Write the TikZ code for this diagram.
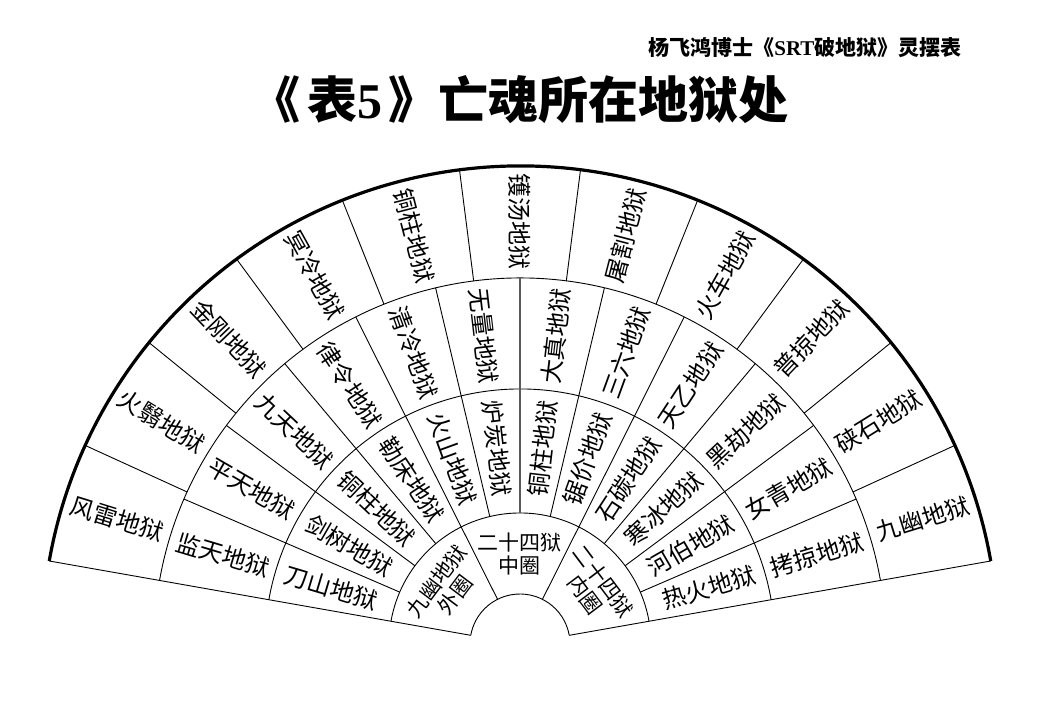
\documentclass[tikz,border=0pt]{standalone}
\usepackage{fontspec}
\setmainfont{Liberation Serif}
\newfontfamily\cjk{Noto Sans CJK SC}

\begin{document}
\begin{tikzpicture}[x=1pt,y=1pt,
  ring/.style={line width=0.9pt},
  rim/.style={line width=3.2pt},
  lab/.style={font=\cjk\fontsize{24}{26}\selectfont,inner sep=0pt},
  hub/.style={font=\cjk\fontsize{21}{23}\selectfont,align=center,inner sep=0pt}]
\useasboundingbox (-520,-76) rectangle (519,644);

% titles
\node[anchor=east,font=\cjk\bfseries\fontsize{21}{23}\selectfont] (sub) at (445,596)
  {杨飞鸿博士《{\rmfamily\bfseries SRT}破地狱》灵摆表};
\node[font=\cjk\bfseries\fontsize{50}{54}\selectfont] (title) at (0,544)
  {《\hspace{7pt}表{\rmfamily\bfseries 5}\hspace{6pt}》亡魂所在地狱处};

% rings and edges
\draw[ring] (10:50) arc[start angle=10,end angle=170,radius=50];
\foreach \r in {131,255,366}
  \draw[ring] (10:\r) arc[start angle=10,end angle=170,radius=\r];
\draw[rim] (10:478) arc[start angle=10,end angle=170,radius=478];
\draw[ring] (170:50) -- (170:478);
\draw[ring] (10:50) -- (10:478);

% dividers
\draw[ring] (116.67:50) -- (116.67:131);
\draw[ring] (63.33:50) -- (63.33:131);
\foreach \k in {1,...,11}
  \draw[ring] ({170-\k*40/3}:131) -- ({170-\k*40/3}:366);
\foreach \k in {1,...,10}
  \draw[ring] ({170-\k*160/11}:366) -- ({170-\k*160/11}:478);
\draw[line width=1.6pt,black!65] (90:131) -- (90:366);

% hub
\node[hub,rotate=53] (h1) at (143:93) {九幽地狱\\外圈};
\node[hub] (h2) at (90:90) {二十四狱\\中圈};
\node[hub,rotate=-53] (h3) at (37:93) {二十四狱\\内圈};

% inner ring
\foreach \nm [count=\i] in {刀山,剑树,铜柱,勒床,火山,炉炭,铜柱,锯价,石碳,寒冰,河伯,热火}{
  \pgfmathsetmacro\a{170-(\i-0.5)*40/3}
  \pgfmathsetmacro\rot{\a>89?\a-180:\a}
  \node[lab,rotate=\rot] (m\i) at (\a:197) {\nm 地狱};
}

% middle ring
\foreach \nm [count=\i] in {监天,平天,九天,律令,清冷,无量,大真,三六,天乙,黑劫,女青,拷掠}{
  \pgfmathsetmacro\a{170-(\i-0.5)*40/3}
  \pgfmathsetmacro\rot{\a>89?\a-180:\a}
  \node[lab,rotate=\rot] (n\i) at (\a:310) {\nm 地狱};
}

% outer ring
\foreach \nm [count=\i] in {风雷,火翳,金刚,冥冷,铜柱,镬汤,屠割,火车,普掠,硖石,九幽}{
  \pgfmathsetmacro\a{170-(\i-0.5)*160/11}
  \pgfmathsetmacro\rot{\a>89?\a-180:\a}
  \node[lab,rotate=\rot] (o\i) at (\a:422) {\nm 地狱};
}
\end{tikzpicture}
\end{document}
